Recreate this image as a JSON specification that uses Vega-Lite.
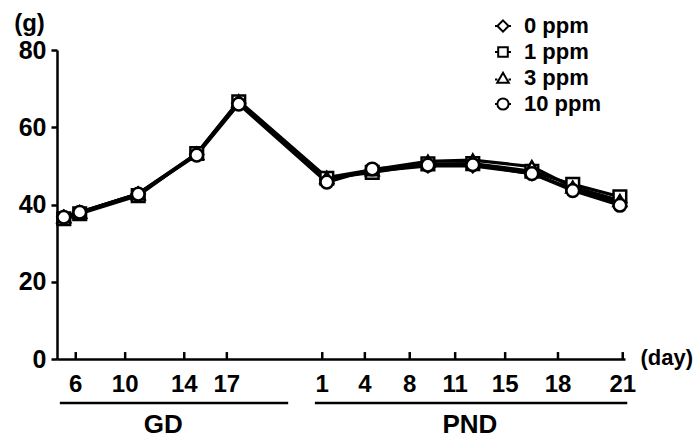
{
  "$schema": "https://vega.github.io/schema/vega-lite/v6.json",
  "width": 568,
  "height": 309,
  "autosize": "none",
  "padding": {"left": 57, "top": 50, "right": 75, "bottom": 83},
  "background": "white",
  "config": {"view": {"stroke": null}, "font": "Liberation Sans"},
  "datasets": {
    "weights": [
      {"group": "0 ppm", "t": 1.2, "w": 36.8}, {"group": "0 ppm", "t": 4.0, "w": 38.0}, {"group": "0 ppm", "t": 14.3, "w": 42.8}, {"group": "0 ppm", "t": 24.6, "w": 53.0}, {"group": "0 ppm", "t": 32.0, "w": 66.3}, {"group": "0 ppm", "t": 47.5, "w": 46.5}, {"group": "0 ppm", "t": 55.5, "w": 48.6}, {"group": "0 ppm", "t": 65.3, "w": 50.0}, {"group": "0 ppm", "t": 73.2, "w": 50.0}, {"group": "0 ppm", "t": 83.6, "w": 48.0}, {"group": "0 ppm", "t": 90.8, "w": 44.0}, {"group": "0 ppm", "t": 99.1, "w": 40.5},
      {"group": "1 ppm", "t": 1.2, "w": 36.3}, {"group": "1 ppm", "t": 4.0, "w": 37.6}, {"group": "1 ppm", "t": 14.3, "w": 42.3}, {"group": "1 ppm", "t": 24.6, "w": 53.2}, {"group": "1 ppm", "t": 32.0, "w": 66.6}, {"group": "1 ppm", "t": 47.5, "w": 46.8}, {"group": "1 ppm", "t": 55.5, "w": 48.3}, {"group": "1 ppm", "t": 65.3, "w": 50.5}, {"group": "1 ppm", "t": 73.2, "w": 50.6}, {"group": "1 ppm", "t": 83.6, "w": 48.6}, {"group": "1 ppm", "t": 90.8, "w": 45.2}, {"group": "1 ppm", "t": 99.1, "w": 42.0},
      {"group": "3 ppm", "t": 1.2, "w": 36.8}, {"group": "3 ppm", "t": 4.0, "w": 38.0}, {"group": "3 ppm", "t": 14.3, "w": 42.8}, {"group": "3 ppm", "t": 24.6, "w": 53.2}, {"group": "3 ppm", "t": 32.0, "w": 66.8}, {"group": "3 ppm", "t": 47.5, "w": 47.0}, {"group": "3 ppm", "t": 55.5, "w": 49.0}, {"group": "3 ppm", "t": 65.3, "w": 51.2}, {"group": "3 ppm", "t": 73.2, "w": 51.5}, {"group": "3 ppm", "t": 83.6, "w": 49.8}, {"group": "3 ppm", "t": 90.8, "w": 44.5}, {"group": "3 ppm", "t": 99.1, "w": 41.0},
      {"group": "10 ppm", "t": 1.2, "w": 36.7}, {"group": "10 ppm", "t": 4.0, "w": 38.0}, {"group": "10 ppm", "t": 14.3, "w": 42.7}, {"group": "10 ppm", "t": 24.6, "w": 52.8}, {"group": "10 ppm", "t": 32.0, "w": 66.0}, {"group": "10 ppm", "t": 47.5, "w": 45.8}, {"group": "10 ppm", "t": 55.5, "w": 49.2}, {"group": "10 ppm", "t": 65.3, "w": 50.2}, {"group": "10 ppm", "t": 73.2, "w": 50.3}, {"group": "10 ppm", "t": 83.6, "w": 48.0}, {"group": "10 ppm", "t": 90.8, "w": 43.6}, {"group": "10 ppm", "t": 99.1, "w": 39.8}
    ],
    "ticks": [
      {"t": 3.3, "label": "6"}, {"t": 12.0, "label": "10"}, {"t": 22.4, "label": "14"}, {"t": 29.9, "label": "17"},
      {"t": 46.7, "label": "1"}, {"t": 54.2, "label": "4"}, {"t": 62.1, "label": "8"}, {"t": 70.1, "label": "11"}, {"t": 78.9, "label": "15"}, {"t": 88.2, "label": "18"}, {"t": 99.6, "label": "21"}
    ],
    "periods": [
      {"name": "GD", "start": 0.5, "end": 40.7, "mid": 18.7},
      {"name": "PND", "start": 45.4, "end": 100.4, "mid": 72.7}
    ]
  },
  "layer": [
    {
      "data": {"name": "weights"},
      "mark": {"type": "line", "color": "black", "strokeWidth": 3.2},
      "encoding": {
        "x": {"field": "t", "type": "quantitative", "scale": {"domain": [0, 100], "nice": false},
          "axis": {"grid": false, "ticks": false, "labels": false, "domainColor": "black", "domainWidth": 2.5,
            "title": "(day)", "titleFontSize": 22, "titleFontWeight": "bold", "titleAlign": "left", "titleBaseline": "middle", "titleX": 583, "titleY": -2}},
        "y": {"field": "w", "type": "quantitative", "scale": {"domain": [0, 80], "nice": false},
          "axis": {"grid": false, "values": [0, 20, 40, 60, 80], "tickSize": 6, "tickWidth": 2.5, "tickColor": "black", "domainColor": "black", "domainWidth": 2.5,
            "labelFontSize": 25, "labelFontWeight": "bold", "labelColor": "black", "labelPadding": 5,
            "title": "(g)", "titleAngle": 0, "titleFontSize": 24, "titleFontWeight": "bold", "titleAlign": "center", "titleBaseline": "middle", "titleX": -28, "titleY": -27}},
        "detail": {"field": "group", "type": "nominal"}
      }
    },
    {
      "data": {"name": "weights"},
      "mark": {"type": "point", "opacity": 0, "size": 256},
      "encoding": {
        "x": {"field": "t", "type": "quantitative"},
        "y": {"field": "w", "type": "quantitative"},
        "shape": {"field": "group", "type": "nominal",
          "scale": {"domain": ["0 ppm", "1 ppm", "3 ppm", "10 ppm"],
            "range": ["M-1,0H-0.7M0.7,0H1M0,-0.7L0.7,0L0,0.7L-0.7,0Z", "M-1,0H-0.6M0.6,0H1M-0.6,-0.6H0.6V0.6H-0.6Z", "M-1,0.2H-0.7M0.7,0.2H1M0,-0.65L0.72,0.6H-0.72Z", "M-1,0H-0.7M0.7,0H1M-0.7,0A0.7,0.7,0,1,0,0.7,0A0.7,0.7,0,1,0,-0.7,0Z"]},
          "legend": {"orient": "none", "legendX": 435, "legendY": -35, "title": null, "symbolSize": 256, "symbolStrokeWidth": 2, "symbolFillColor": "white", "symbolStrokeColor": "black", "symbolOpacity": 1,
            "labelFontSize": 22, "labelFontWeight": "bold", "labelColor": "black", "rowPadding": 4, "labelOffset": 10,
            "encode": {
              "symbols": {"update": {"opacity": {"value": 1}, "fill": {"value": "white"}, "stroke": {"value": "black"}, "strokeWidth": {"value": 2}, "fillOpacity": {"value": 1}, "strokeOpacity": {"value": 1}}}
            }}}
      }
    },
    {
      "data": {"name": "weights"},
      "mark": {"type": "point", "filled": false, "fill": "white", "fillOpacity": 1, "stroke": "black", "strokeWidth": 2.5, "size": 160, "opacity": 1},
      "encoding": {
        "x": {"field": "t", "type": "quantitative"},
        "y": {"field": "w", "type": "quantitative"},
        "shape": {"field": "group", "type": "nominal", "scale": {"domain": ["0 ppm", "1 ppm", "3 ppm", "10 ppm"], "range": ["diamond", "square", "triangle-up", "circle"]}, "legend": null}
      }
    },
    {
      "data": {"name": "ticks"},
      "mark": {"type": "rule", "color": "black", "strokeWidth": 2.5},
      "encoding": {
        "x": {"field": "t", "type": "quantitative"},
        "y": {"datum": 0, "type": "quantitative"},
        "y2": {"datum": 1.8}
      }
    },
    {
      "data": {"name": "ticks"},
      "mark": {"type": "text", "fontSize": 24, "fontWeight": "bold", "color": "black", "dy": 26, "baseline": "middle", "align": "center"},
      "encoding": {
        "x": {"field": "t", "type": "quantitative"},
        "y": {"datum": 0, "type": "quantitative"},
        "text": {"field": "label", "type": "nominal"}
      }
    },
    {
      "data": {"name": "periods"},
      "mark": {"type": "rule", "color": "black", "strokeWidth": 2.5, "yOffset": 44},
      "encoding": {
        "x": {"field": "start", "type": "quantitative"},
        "x2": {"field": "end"},
        "y": {"datum": 0, "type": "quantitative"}
      }
    },
    {
      "data": {"name": "periods"},
      "mark": {"type": "text", "fontSize": 26, "fontWeight": "bold", "color": "black", "dy": 66, "baseline": "middle", "align": "center"},
      "encoding": {
        "x": {"field": "mid", "type": "quantitative"},
        "y": {"datum": 0, "type": "quantitative"},
        "text": {"field": "name", "type": "nominal"}
      }
    }
  ],
  "resolve": {"scale": {"shape": "independent"}}
}
